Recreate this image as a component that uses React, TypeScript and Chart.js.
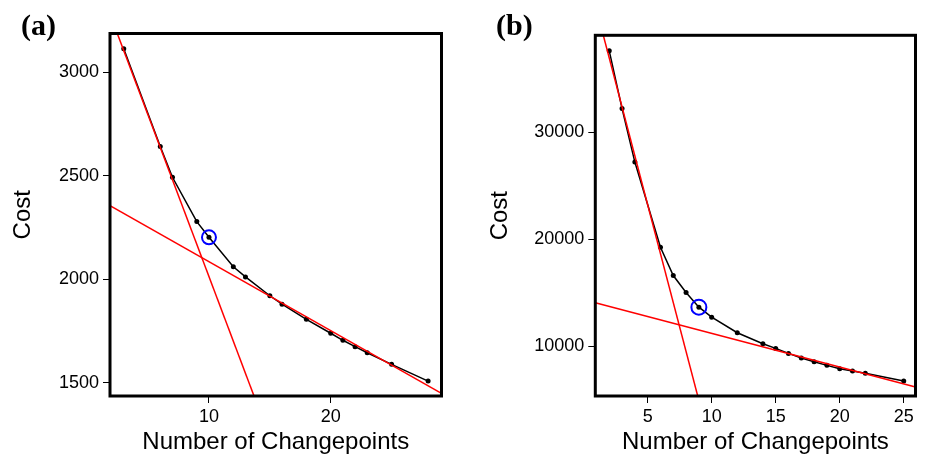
import React, { useEffect, useRef } from "react";
import { Chart, registerables } from "chart.js";
Chart.register(...registerables);

// ---------- Panel (a) ----------
const changepointsA = [3, 6, 7, 9, 10, 12, 13, 15, 16, 18, 20, 21, 22, 23, 25, 28];
const costA = [3112, 2640, 2492, 2278, 2202, 2060, 2011, 1920, 1879, 1806, 1739, 1705, 1674, 1645, 1589, 1508];
const selectedXA = [10];
const selectedYA = [2202];
const steepXA = [2.0, 14.2];
const steepYA = [3259, 1358];
const flatXA = [1.87, 29.1];
const flatYA = [2355, 1449];
const xTicksA = [10, 20];
const yTicksA = [1500, 2000, 2500, 3000];
const xRangeA = [1.87, 29.1];
const yRangeA = [1436, 3186];

// ---------- Panel (b) ----------
const changepointsB = [2, 3, 4, 6, 7, 8, 9, 10, 12, 14, 15, 16, 17, 18, 19, 20, 21, 22, 25];
const costB = [37600, 32200, 27200, 19235, 16595, 15009, 13638, 12705, 11250, 10224, 9785, 9319, 8881, 8545, 8200, 7892, 7668, 7453, 6735];
const selectedXB = [9];
const selectedYB = [13638];
const steepXB = [1.3, 9.2];
const steepYB = [40123, 4010];
const flatXB = [0.91, 25.92];
const flatYB = [14049, 6175];
const xTicksB = [5, 10, 15, 20, 25];
const yTicksB = [10000, 20000, 30000];
const xRangeB = [0.91, 25.92];
const yRangeB = [5336, 39049];

const FONT = "'Liberation Sans', Arial, Helvetica, sans-serif";

const zip = (xs: number[], ys: number[]) => xs.map((x, i) => ({ x, y: ys[i] }));

const boxPlugin = {
  id: "plotBox",
  afterDraw(chart: any) {
    const { ctx, chartArea } = chart;
    ctx.save();
    ctx.strokeStyle = "#000";
    ctx.lineWidth = 3;
    ctx.strokeRect(chartArea.left, chartArea.top, chartArea.right - chartArea.left, chartArea.bottom - chartArea.top);
    ctx.restore();
  },
};

type PanelProps = {
  left: number;
  width: number;
  label: string;
  labelLeft: number;
  xs: number[];
  ys: number[];
  selX: number[];
  selY: number[];
  steepX: number[];
  steepY: number[];
  flatX: number[];
  flatY: number[];
  xTicks: number[];
  yTicks: number[];
  xRange: number[];
  yRange: number[];
  yAxisWidth: number;
  padTop: number;
  padRight: number;
  yTitlePad: number;
  circleR: number;
};

function Panel(p: PanelProps) {
  const ref = useRef<HTMLCanvasElement>(null);
  useEffect(() => {
    if (!ref.current) return;
    const tickFont = { family: FONT, size: 18 };
    const titleFont = { family: FONT, size: 24 };
    const chart = new Chart(ref.current, {
      type: "line",
      data: {
        datasets: [
          {
            data: zip(p.selX, p.selY),
            showLine: false,
            pointRadius: p.circleR,
            pointBorderColor: "#0000ff",
            pointBorderWidth: 2,
            pointBackgroundColor: "rgba(0,0,0,0)",
            order: 0,
          },
          {
            data: zip(p.steepX, p.steepY),
            borderColor: "#ff0000",
            borderWidth: 1.5,
            pointRadius: 0,
            order: 1,
          },
          {
            data: zip(p.flatX, p.flatY),
            borderColor: "#ff0000",
            borderWidth: 1.5,
            pointRadius: 0,
            order: 2,
          },
          {
            data: zip(p.xs, p.ys),
            borderColor: "#000",
            borderWidth: 1.5,
            pointRadius: 2.5,
            pointBorderWidth: 0,
            pointBackgroundColor: "#000",
            order: 3,
          },
        ] as any,
      },
      options: {
        animation: false,
        responsive: false,
        events: [],
        plugins: { legend: { display: false }, tooltip: { enabled: false } },
        layout: { padding: { left: 0, top: p.padTop, right: p.padRight, bottom: 0 } },
        scales: {
          x: {
            type: "linear",
            min: p.xRange[0],
            max: p.xRange[1],
            afterFit: (s: any) => {
              s.height = 63;
            },
            afterBuildTicks: (s: any) => {
              s.ticks = p.xTicks.map((v) => ({ value: v }));
            },
            ticks: {
              color: "#000",
              font: tickFont,
              padding: 3,
              maxRotation: 0,
              autoSkip: false,
              callback: (v: any) => String(v),
            },
            grid: { drawOnChartArea: false, drawTicks: true, tickLength: 7, tickColor: "#000", tickWidth: 1 },
            border: { display: false },
            title: {
              display: true,
              text: "Number of Changepoints",
              color: "#000",
              font: titleFont,
              padding: { top: 0, bottom: 2 },
            },
          },
          y: {
            type: "linear",
            min: p.yRange[0],
            max: p.yRange[1],
            afterFit: (s: any) => {
              s.width = p.yAxisWidth;
            },
            afterBuildTicks: (s: any) => {
              s.ticks = p.yTicks.map((v) => ({ value: v }));
            },
            ticks: {
              color: "#000",
              font: tickFont,
              padding: 4,
              autoSkip: false,
              callback: (v: any) => String(v),
            },
            grid: { drawOnChartArea: false, drawTicks: true, tickLength: 7, tickColor: "#000", tickWidth: 1 },
            border: { display: false },
            title: {
              display: true,
              text: "Cost",
              color: "#000",
              font: titleFont,
              padding: { top: p.yTitlePad, bottom: 0 },
            },
          },
        },
      } as any,
      plugins: [boxPlugin],
    });
    return () => chart.destroy();
  }, []);
  return (
    <div style={{ position: "absolute", left: p.left, top: 0, width: p.width, height: 459 }}>
      <canvas ref={ref} width={p.width} height={459} style={{ width: p.width, height: 459, display: "block" }} />
      <div
        style={{
          position: "absolute",
          left: p.labelLeft,
          top: 10,
          fontFamily: "'Liberation Serif', 'Times New Roman', serif",
          fontWeight: "bold",
          fontSize: 30,
          lineHeight: "30px",
          color: "#000",
          whiteSpace: "nowrap",
        }}
      >
        {p.label}
      </div>
    </div>
  );
}

export default function App() {
  return (
    <div style={{ position: "absolute", left: 0, top: 0, width: 925, height: 459, background: "#fff", overflow: "hidden" }}>
      <Panel
        left={0}
        width={462}
        label="(a)"
        labelLeft={21}
        xs={changepointsA}
        ys={costA}
        selX={selectedXA}
        selY={selectedYA}
        steepX={steepXA}
        steepY={steepYA}
        flatX={flatXA}
        flatY={flatYA}
        xTicks={xTicksA}
        yTicks={yTicksA}
        xRange={xRangeA}
        yRange={yRangeA}
        yAxisWidth={110}
        padTop={33.5}
        padRight={20.5}
        yTitlePad={8.6}
        circleR={7}
      />
      <Panel
        left={462}
        width={463}
        label="(b)"
        labelLeft={34}
        xs={changepointsB}
        ys={costB}
        selX={selectedXB}
        selY={selectedYB}
        steepX={steepXB}
        steepY={steepYB}
        flatX={flatXB}
        flatY={flatYB}
        xTicks={xTicksB}
        yTicks={yTicksB}
        xRange={xRangeB}
        yRange={yRangeB}
        yAxisWidth={133.3}
        padTop={35.3}
        padRight={9.5}
        yTitlePad={23.6}
        circleR={7.5}
      />
    </div>
  );
}
